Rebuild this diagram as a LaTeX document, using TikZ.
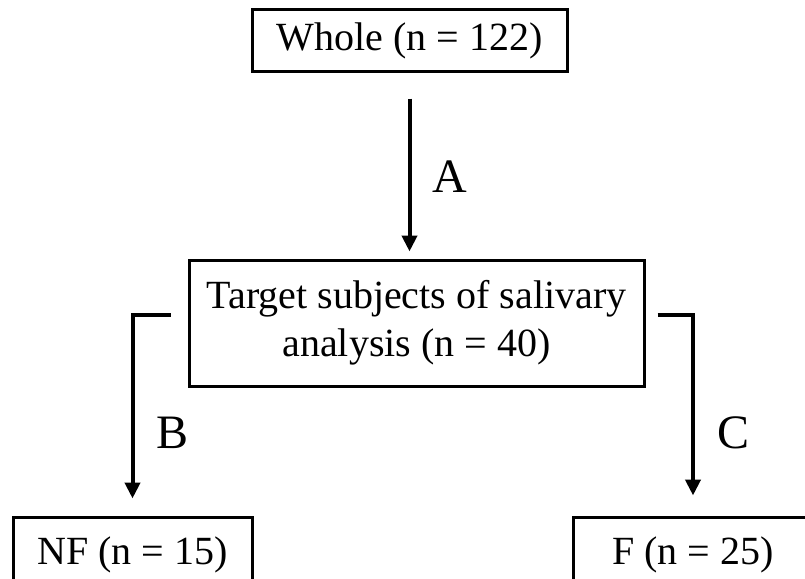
\documentclass[tikz,border=0pt]{standalone}
\usepackage{fontspec}
\setmainfont{Liberation Serif}
\usetikzlibrary{arrows.meta}

\begin{document}
\begin{tikzpicture}[x=1pt,y=-1pt,
  box/.style={draw,line width=3pt,inner sep=0pt,align=center,
    font=\fontsize{40}{48}\selectfont},
  arr/.style={line width=4pt,-{Triangle[length=16pt,width=15pt]}},
  lbl/.style={font=\fontsize{48}{52}\selectfont}]
  \useasboundingbox (0,0) rectangle (805,578);
  \clip (0,0) rectangle (805,578);
  \node[box,minimum width=315pt,minimum height=61pt] (whole) at (409.5,40.5) {Whole (n = 122)};
  \node[box,minimum width=455pt,minimum height=126pt] (target) at (416.5,323) {Target subjects of salivary\\analysis (n = 40)};
  \node[box,minimum width=239pt,minimum height=76pt] (nf) at (132.5,555) {NF (n = 15)};
  \node[box,minimum width=240pt,minimum height=76pt] (f) at (693,555) {F (n = 25)};
  \draw[arr,shorten <=26pt,shorten >=7pt] (whole.south) -- (whole.south |- target.north);
  \draw[arr,shorten >=17pt] ([xshift=-17pt,yshift=8pt]target.west) -| (nf.north);
  \draw[arr,shorten >=20pt] ([xshift=12pt,yshift=8pt]target.east) -| (f.north);
  \node[lbl] (la) at (450,177) {A};
  \node[lbl] (lb) at (173,433) {B};
  \node[lbl] (lc) at (733,433) {C};
\end{tikzpicture}
\end{document}
